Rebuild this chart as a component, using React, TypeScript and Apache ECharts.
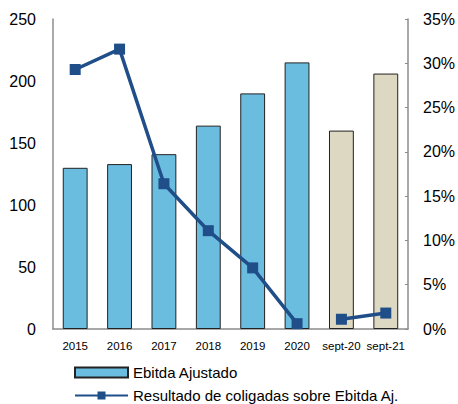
import React, { useEffect, useRef } from "react";
import * as echarts from "echarts";

const categories = ["2015", "2016", "2017", "2018", "2019", "2020", "sept-20", "sept-21"];
const ebitdaValues = [130, 133, 141, 164, 190, 215, 160, 206];
const ratioAnnual = [29.3, 31.6, 16.4, 11.1, 6.9, 0.6, null, null];
const ratioPartial = [null, null, null, null, null, null, 1.1, 1.8];
const leftTicks = [0, 50, 100, 150, 200, 250];
const rightTicks = [0, 5, 10, 15, 20, 25, 30, 35];

const BLUE = "#6BBDE0";
const BEIGE = "#DDD8C1";
const LINE = "#1F4E89";
const FONT = "Liberation Sans";

export default function App() {
  const ref = useRef<HTMLDivElement>(null);
  useEffect(() => {
    if (!ref.current) return;
    const chart = echarts.init(ref.current, null, { renderer: "svg" });
    const barName = "Ebitda Ajustado";
    const lineName = "Resultado de coligadas sobre Ebitda Aj.";
    const lineCommon = {
      type: "line",
      name: lineName,
      yAxisIndex: 1,
      symbol: "rect",
      symbolSize: 11,
      lineStyle: { color: LINE, width: 3.5 },
      itemStyle: { color: LINE },
      connectNulls: false,
      z: 5,
    };
    const legendText = { fontSize: 15, color: "#000", fontFamily: FONT };
    chart.setOption({
      animation: false,
      textStyle: { fontFamily: FONT },
      grid: { left: 53, right: 47, top: 19, bottom: 75 },
      legend: [
        {
          left: 69,
          top: 360,
          itemWidth: 53,
          itemHeight: 10,
          icon: "rect",
          textStyle: legendText,
          data: [barName],
        },
        {
          left: 69,
          top: 383,
          itemWidth: 53,
          itemHeight: 10,
          textStyle: legendText,
          data: [lineName],
        },
      ],
      xAxis: {
        type: "category",
        data: categories,
        axisLine: { lineStyle: { color: "#8c8c8c", width: 1.5 } },
        axisTick: { show: false },
        axisLabel: { color: "#000", fontSize: 11.5, margin: 11, interval: 0, fontFamily: FONT },
      },
      yAxis: [
        {
          type: "value",
          min: leftTicks[0],
          max: leftTicks[leftTicks.length - 1],
          interval: 50,
          axisLine: { show: true, lineStyle: { color: "#8c8c8c", width: 1.5 } },
          axisTick: { show: false },
          splitLine: { show: false },
          axisLabel: { color: "#000", fontSize: 16, margin: 17, fontFamily: FONT },
        },
        {
          type: "value",
          min: rightTicks[0],
          max: rightTicks[rightTicks.length - 1],
          interval: 5,
          axisLine: { show: true, lineStyle: { color: "#8c8c8c", width: 1.5 } },
          axisTick: { show: true, inside: true, length: 3, lineStyle: { color: "#8c8c8c" } },
          splitLine: { show: false },
          axisLabel: {
            color: "#000",
            fontSize: 16,
            margin: 15,
            fontFamily: FONT,
            formatter: (v: number) => v + "%",
          },
        },
      ],
      series: [
        {
          type: "bar",
          name: barName,
          barWidth: "56%",
          itemStyle: { color: BLUE, borderColor: "#222", borderWidth: 1 },
          data: ebitdaValues.map((v, i) =>
            i >= 6 ? { value: v, itemStyle: { color: BEIGE, borderColor: "#222", borderWidth: 1 } } : v
          ),
        },
        { ...lineCommon, data: ratioAnnual },
        { ...lineCommon, data: ratioPartial },
      ],
    });
    return () => chart.dispose();
  }, []);
  return (
    <div
      ref={ref}
      style={{ position: "absolute", left: 0, top: 0, width: 458, height: 404 }}
    />
  );
}
